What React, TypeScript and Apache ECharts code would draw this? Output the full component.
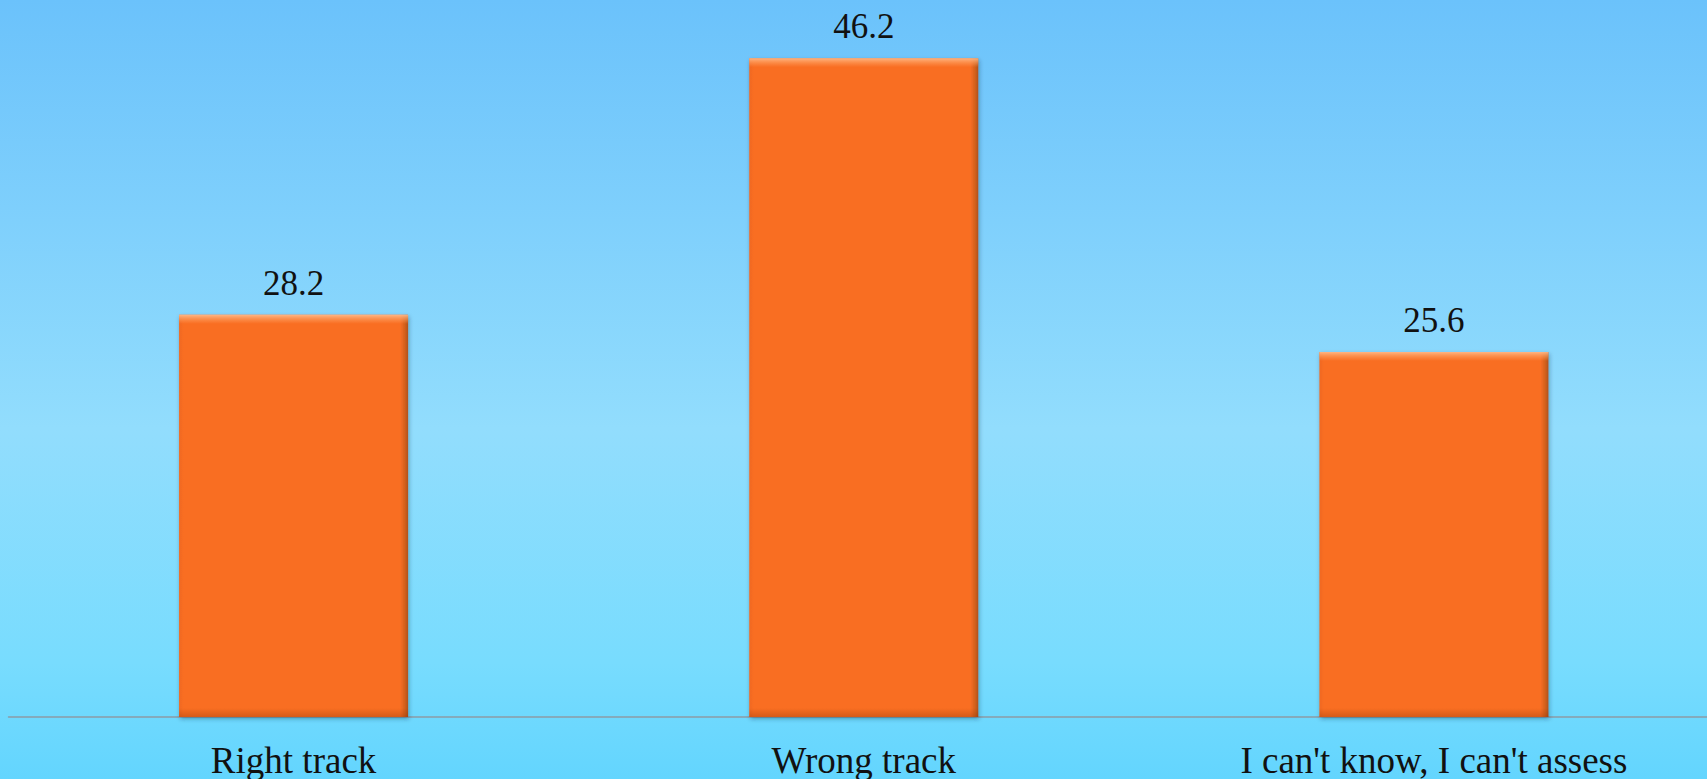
import React, { useEffect, useRef } from "react";
import * as echarts from "echarts";

const categories = ["Right track", "Wrong track", "I can't know, I can't assess"];
const values = [28.2, 46.2, 25.6];

const Y_MAX = 50;
const PLOT_H = 713; // px height of grid, used only for bevel offsets

export default function App() {
  const ref = useRef<HTMLDivElement>(null);
  useEffect(() => {
    if (!ref.current) return;
    const chart = echarts.init(ref.current, undefined, { renderer: "svg" });
    const font = "'Liberation Serif', 'Times New Roman', serif";
    const hGrad = new echarts.graphic.LinearGradient(0, 0, 1, 0, [
      { offset: 0, color: "#F0691F" },
      { offset: 0.02, color: "#F96E22" },
      { offset: 0.965, color: "#F96E22" },
      { offset: 0.985, color: "#D5611E" },
      { offset: 1, color: "#B0521B" },
    ]);
    const overlayData = values.map((v) => {
      const h = (v / Y_MAX) * PLOT_H;
      const t = 9 / h;
      const b = 9 / h;
      return {
        value: v,
        itemStyle: {
          color: new echarts.graphic.LinearGradient(0, 0, 0, 1, [
            { offset: 0, color: "rgba(255,195,150,0.85)" },
            { offset: t * 0.5, color: "rgba(255,170,110,0.5)" },
            { offset: t, color: "rgba(255,160,100,0.0)" },
            { offset: 1 - b, color: "rgba(120,40,0,0)" },
            { offset: 1, color: "rgba(120,40,0,0.28)" },
          ]),
        },
      };
    });
    chart.setOption({
      animation: false,
      backgroundColor: {
        type: "linear",
        x: 0,
        y: 0,
        x2: 0,
        y2: 1,
        colorStops: [
          { offset: 0, color: "#6BC2FB" },
          { offset: 0.55, color: "#92DDFD" },
          { offset: 0.85, color: "#78DCFE" },
          { offset: 1, color: "#63D5FE" },
        ],
      },
      grid: { left: 8.5, right: 0, top: 4, bottom: 62, containLabel: false },
      xAxis: {
        type: "category",
        data: categories,
        axisLine: { show: true, lineStyle: { color: "#8C9BA6", width: 1.5 } },
        axisTick: { show: false },
        axisLabel: {
          color: "#111",
          fontFamily: font,
          fontSize: 37,
          lineHeight: 37,
          margin: 25,
          interval: 0,
        },
      },
      yAxis: {
        type: "value",
        min: 0,
        max: Y_MAX,
        show: false,
        splitLine: { show: false },
      },
      series: [
        {
          type: "bar",
          data: values,
          barWidth: 229,
          z: 2,
          itemStyle: {
            color: hGrad,
            shadowColor: "rgba(0,40,60,0.35)",
            shadowBlur: 4,
            shadowOffsetX: 1,
            shadowOffsetY: 2,
          },
          label: {
            show: true,
            position: "top",
            distance: 14,
            color: "#111",
            fontFamily: font,
            fontSize: 35,
            formatter: (p: any) => p.value.toFixed(1),
          },
        },
        {
          type: "bar",
          data: overlayData,
          barWidth: 229,
          barGap: "-100%",
          z: 3,
          silent: true,
          label: { show: false },
        },
      ],
    });
    return () => chart.dispose();
  }, []);
  return (
    <div style={{ position: "absolute", left: 0, top: 0, width: 1707, height: 779, overflow: "hidden" }}>
      <div ref={ref} style={{ width: 1719, height: 779 }} />
    </div>
  );
}
